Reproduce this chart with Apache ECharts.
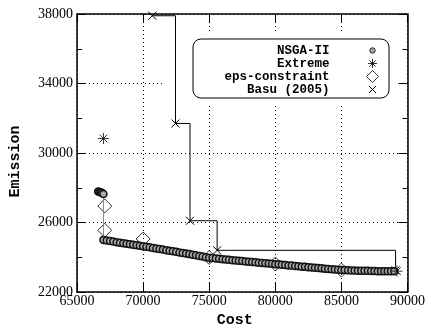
<!DOCTYPE html>
<html>
<head>
<meta charset="utf-8">
<script src="https://cdn.jsdelivr.net/npm/echarts@6/dist/echarts.min.js"></script>
<style>
  html, body { margin: 0; padding: 0; background: #fff; }
  #chart { width: 428px; height: 333px; }
</style>
</head>
<body>
<div id="chart"></div>
<script>
// NSGA-II front (cost, emission)
var nsgaCost = [66600, 66700, 66800, 66900, 67000,
    67000, 67250, 67500, 67750, 68000, 68250, 68500, 68750, 69000, 69250,
    69500, 69750, 70000, 70250, 70500, 70750, 71000, 71250, 71500, 71750,
    72000, 72250, 72500, 72750, 73000, 73250, 73500, 73750, 74000, 74250,
    74500, 74750, 75000, 75250, 75500, 75750, 76000, 76250, 76500, 76750,
    77000, 77250, 77500, 77750, 78000, 78250, 78500, 78750, 79000, 79250,
    79500, 79750, 80000, 80250, 80500, 80750, 81000, 81250, 81500, 81750,
    82000, 82250, 82500, 82750, 83000, 83250, 83500, 83750, 84000, 84250,
    84500, 84750, 85000, 85250, 85500, 85750, 86000, 86250, 86500, 86750,
    87000, 87250, 87500, 87750, 88000, 88250, 88500, 88750, 89000];
var nsgaEmission = [27780, 27760, 27740, 27700, 27640,
    25000, 24970, 24940, 24900, 24870, 24840, 24810, 24780, 24750, 24720,
    24690, 24660, 24630, 24600, 24570, 24530, 24500, 24470, 24440, 24400,
    24370, 24340, 24310, 24270, 24240, 24210, 24180, 24140, 24110, 24070,
    24040, 24000, 23970, 23950, 23930, 23910, 23890, 23870, 23850, 23830,
    23810, 23800, 23780, 23760, 23740, 23730, 23710, 23690, 23670, 23660,
    23640, 23620, 23600, 23590, 23570, 23550, 23530, 23520, 23500, 23480,
    23460, 23450, 23430, 23410, 23390, 23380, 23360, 23340, 23330, 23310,
    23300, 23280, 23270, 23260, 23250, 23240, 23240, 23230, 23230, 23220,
    23220, 23210, 23210, 23200, 23200, 23200, 23200, 23190, 23190];

var extremeCost = [67000, 89200];
var extremeEmission = [30830, 23200];

var epsCost = [67100, 67100, 70000, 75000, 80000, 85000];
var epsEmission = [26950, 25550, 25050, 23990, 23610, 23260];

var basuCost = [70700, 72450, 73550, 75600, 89100];
var basuEmission = [37900, 31700, 26100, 24400, 23250];

var xTicks = [65000, 70000, 75000, 80000, 85000, 90000];
var yTicks = [22000, 26000, 30000, 34000, 38000];

function pairs(xs, ys) {
    return xs.map(function (x, i) { return [x, ys[i]]; });
}

var asterisk = 'path://M5,0L5,10M0,5L10,5M1.5,1.5L8.5,8.5M8.5,1.5L1.5,8.5';
var cross = 'path://M0,0L10,10M10,0L0,10';
// legend icons: the M0,0 M12,12 moves pad the glyph inside a 12px box
var keyCircle = 'path://M0,0M12,12M8.7,6A2.7,2.7,0,1,1,3.3,6A2.7,2.7,0,1,1,8.7,6Z';
var keyAsterisk = 'path://M0,0M12,12M6,1.5L6,10.5M1.5,6L10.5,6M2.8,2.8L9.2,9.2M9.2,2.8L2.8,9.2';
var keyCross = 'path://M0,0M12,12M2.5,2.5L9.5,9.5M9.5,2.5L2.5,9.5';

var labelFont = {fontFamily: "'Liberation Serif', 'DejaVu Serif', serif", fontSize: 14, color: '#000'};
var nameFont = {fontFamily: "'Liberation Mono', monospace", fontWeight: 'bold', fontSize: 15, color: '#000'};
var plain = function (v) { return String(v); };

var chart = echarts.init(document.getElementById('chart'));
var option = {
    animation: false,
    backgroundColor: '#fff',
    grid: {left: 76, right: 19, top: 14, bottom: 38},
    legend: {
        orient: 'vertical',
        align: 'right',
        right: 49,
        top: 44,
        padding: 0,
        itemGap: 0,
        itemWidth: 12,
        itemHeight: 12,
        selectedMode: false,
        textStyle: {
            fontFamily: "'Liberation Mono', monospace", fontWeight: 'bold', fontSize: 12.5,
            color: '#000', lineHeight: 12, padding: [0, 32, 0, 0]
        },
        data: [
            {name: 'NSGA-II', icon: keyCircle, itemStyle: {color: '#aaa', borderColor: '#222', borderWidth: 1}},
            {name: 'Extreme', icon: keyAsterisk, itemStyle: {color: '#000', borderColor: '#000', borderWidth: 1}},
            {name: 'eps-constraint', icon: 'diamond', itemStyle: {color: '#fff', borderColor: '#000', borderWidth: 1}},
            {name: 'Basu (2005)', icon: keyCross, itemStyle: {color: '#000', borderColor: '#000', borderWidth: 1}}
        ]
    },
    graphic: [
        // opaque key area hides grid lines
        {type: 'rect', z: 1, silent: true, shape: {x: 162, y: 34, width: 236, height: 69},
            style: {fill: '#fff'}},
        {type: 'rect', z: 1, silent: true, shape: {x: 193, y: 39, width: 196, height: 59, r: 8},
            style: {fill: '#fff', stroke: '#000', lineWidth: 1}}
    ],
    xAxis: [{
        type: 'value', min: xTicks[0], max: xTicks[xTicks.length - 1], interval: 5000,
        name: 'Cost', nameLocation: 'middle', nameGap: 21,
        nameTextStyle: Object.assign({padding: [0, 15, 0, 0]}, nameFont),
        axisLine: {show: true, lineStyle: {color: '#000', width: 1.5}},
        axisTick: {inside: true, length: 9, lineStyle: {color: '#000'}},
        axisLabel: Object.assign({margin: 2, formatter: plain}, labelFont),
        splitLine: {show: true, lineStyle: {color: '#000', type: [1, 3], width: 1}}
    }, {
        type: 'value', position: 'top', min: xTicks[0], max: xTicks[xTicks.length - 1], interval: 5000,
        axisLine: {show: true, lineStyle: {color: '#000', width: 1.5}},
        axisTick: {inside: true, length: 9, lineStyle: {color: '#000'}},
        axisLabel: {show: false},
        splitLine: {show: false}
    }],
    yAxis: [{
        type: 'value', min: yTicks[0], max: yTicks[yTicks.length - 1], interval: 4000,
        name: 'Emission', nameLocation: 'middle', nameGap: 54,
        nameTextStyle: Object.assign({padding: [0, 17, 0, 0]}, nameFont),
        axisLine: {show: true, lineStyle: {color: '#000', width: 1.5}},
        axisTick: {inside: true, length: 9, lineStyle: {color: '#000'}},
        minorTick: {show: true, splitNumber: 2, length: 5, lineStyle: {color: '#000'}},
        axisLabel: Object.assign({margin: 4, formatter: plain}, labelFont),
        splitLine: {show: true, lineStyle: {color: '#000', type: [1, 3], width: 1}}
    }, {
        type: 'value', position: 'right', min: yTicks[0], max: yTicks[yTicks.length - 1], interval: 4000,
        axisLine: {show: true, lineStyle: {color: '#000', width: 1.5}},
        axisTick: {inside: true, length: 9, lineStyle: {color: '#000'}},
        minorTick: {show: true, splitNumber: 2, length: 5, lineStyle: {color: '#000'}},
        axisLabel: {show: false},
        splitLine: {show: false}
    }],
    series: [
        {
            name: 'NSGA-II', type: 'line', z: 3,
            data: pairs(nsgaCost, nsgaEmission),
            symbol: 'circle', symbolSize: 7, showAllSymbol: true,
            lineStyle: {color: '#888', width: 1},
            itemStyle: {color: '#aaa', borderColor: '#111', borderWidth: 1.5}
        },
        {
            name: 'Extreme', type: 'scatter', z: 4,
            data: pairs(extremeCost, extremeEmission),
            symbol: asterisk, symbolSize: 11,
            itemStyle: {color: '#000', borderColor: '#000', borderWidth: 1}
        },
        {
            name: 'eps-constraint', type: 'scatter', z: 2,
            data: pairs(epsCost, epsEmission),
            symbol: 'diamond', symbolSize: [14, 14],
            itemStyle: {color: 'rgba(255,255,255,0)', borderColor: '#000', borderWidth: 1}
        },
        {
            name: 'Basu (2005)', type: 'line', step: 'end', z: 2,
            data: pairs(basuCost, basuEmission),
            symbol: cross, symbolSize: 8, showAllSymbol: true,
            lineStyle: {color: '#000', width: 1},
            itemStyle: {color: '#000', borderColor: '#000', borderWidth: 1}
        }
    ]
};
chart.setOption(option);
</script>
</body>
</html>
